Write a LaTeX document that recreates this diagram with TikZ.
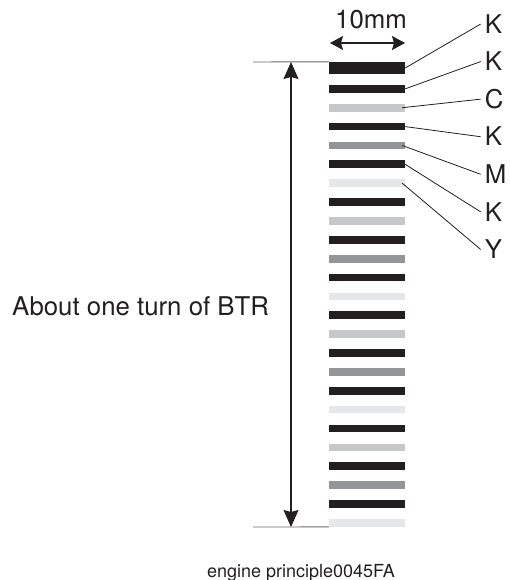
\documentclass[tikz,border=0pt]{standalone}
\usepackage{fontspec}
\setmainfont{TeX Gyre Heros}
\usepackage{tikz}
\usetikzlibrary{arrows.meta, positioning}
\definecolor{inkK}{RGB}{35, 31, 32}
\definecolor{inkC}{RGB}{198, 199, 201}
\definecolor{inkM}{RGB}{147, 149, 152}
\definecolor{inkY}{RGB}{230, 231, 232}
\definecolor{rule}{RGB}{105, 105, 105}

\begin{document}
\begin{tikzpicture}[
    x=1pt, y=-1pt,
    bar/.style={rectangle, draw=none, inner sep=0pt, minimum width=76pt, minimum height=7.7pt},
    ink/.style={anchor=west, inner xsep=4pt, inner ysep=0pt, text height=18.5pt, text depth=0pt, text=inkK, font=\fontsize{25.8}{31}\selectfont},
    note/.style={inner sep=0pt, text=inkK, font=\fontsize{25.8}{31}\selectfont},
    leader/.style={draw=inkK, line width=0.8pt},
    guide/.style={draw=rule, line width=0.9pt},
    span/.style={<->, >={Stealth[length=17pt, width=15pt, inset=2pt]}, draw=inkK, fill=inkK, line width=1.3pt},
    measure/.style={<->, >={Stealth[length=13pt, width=14pt, inset=2pt]}, draw=inkK, fill=inkK, line width=1.3pt}
]
    \useasboundingbox (0,0) rectangle (510,580);

    % Test pattern strip
    \node[bar, fill=inkK, minimum height=12pt] (s1) at (367,68) {};
    \foreach \r in {0,...,3}
        \foreach \c [count=\j from 0] in {inkK,inkC,inkK,inkM,inkK,inkY} {
            \pgfmathtruncatemacro\i{2+6*\r+\j}
            \node[bar, fill=\c] (s\i) at (367, {88.85+(\i-2)*18.87}) {};
        }

    % One turn of BTR
    \coordinate (topL) at (253,62);
    \coordinate (botL) at (253,527);
    \draw[guide] (topL) -- (s1.north west);
    \draw[guide] (botL) -- (s25.south west);
    \coordinate (turnTop) at (291,62);
    \coordinate (turnBot) at (291,527);
    \draw[span] (turnTop) -- (turnBot);
    \node[note, anchor=base west] (turn) at (12,315) {About one turn of BTR};

    % Strip width
    \coordinate (wL) at (330,43);
    \coordinate (wR) at (405,43);
    \draw[measure] (wL) -- (wR);
    \node[note, anchor=base] (width) at (371,28.5) {10mm};

    % Colour labels
    \foreach \t [count=\n] in {K,K,C,K,M,K,Y}
        \node[ink] (l\n) at (480.7, {24+(\n-1)*37.58}) {\t};
    \foreach \n/\dx in {1/0,2/0,3/3,4/0,5/3,6/0,7/3}
        \draw[leader] (l\n.west) -- ([xshift=-\dx pt]s\n.east);

    \node[inner sep=0pt, text=inkK, font=\fontsize{18}{22}\selectfont, anchor=base] (caption) at (301,577) {engine principle0045FA};
\end{tikzpicture}
\end{document}
